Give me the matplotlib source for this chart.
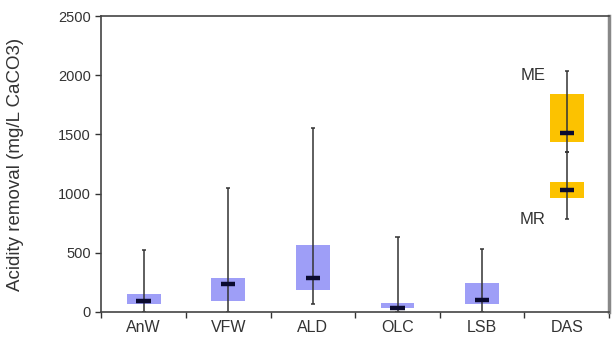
import matplotlib
matplotlib.use('Agg')
import matplotlib.pyplot as plt
import numpy as np

plt.rcParams['font.family'] = ['Liberation Sans', 'DejaVu Sans']

# data
categories = ['AnW', 'VFW', 'ALD', 'OLC', 'LSB', 'DAS']
box_low = [70, 90, 189, 37, 65]
box_high = [155, 287, 569, 76, 242]
medians = [90, 237, 287, 34, 101]
whisk_low = [0, 0, 70, 0, 0]
whisk_high = [527, 1051, 1556, 637, 535]

# DAS: ME and MR
das_labels = ['ME', 'MR']
das_box_low = [1437, 964]
das_box_high = [1840, 1099]
das_medians = [1516, 1029]
das_whisk_low = [1353, 783]
das_whisk_high = [2038, 1353]

blueColor = '#9e9ef7'
goldColor = '#fcc200'
lineColor = '#333333'
textColor = '#333333'

fig = plt.figure(figsize=(6.14, 3.42), dpi=100)
ax = fig.add_axes([0.165, 0.088, 0.827, 0.865])

w = 0.4
mw = 0.17

def draw_box(x, lo, hi, med, wlo, whi, color):
    ax.bar(x, hi - lo, bottom=lo, width=w, color=color, zorder=1)
    ax.vlines(x, wlo, whi, color=lineColor, lw=1.1, zorder=2)
    ax.hlines([wlo, whi], x - 0.025, x + 0.025, color=lineColor, lw=1.1, zorder=2)
    ax.hlines(med, x - mw / 2, x + mw / 2, color='#0a0a30', lw=3.2, zorder=3)

for i in range(len(box_low)):
    draw_box(i, box_low[i], box_high[i], medians[i], whisk_low[i], whisk_high[i], blueColor)

for j in range(len(das_labels)):
    draw_box(5, das_box_low[j], das_box_high[j], das_medians[j],
             das_whisk_low[j], das_whisk_high[j], goldColor)

ax.text(4.6, 2000, das_labels[0], fontsize=12, color=textColor, ha='center', va='center')
ax.text(4.6, 780, das_labels[1], fontsize=12, color=textColor, ha='center', va='center')

ax.set_xlim(-0.5, 5.5)
ax.set_ylim(0, 2500)
ax.set_yticks(np.arange(0, 2501, 500))
ax.set_xticks(range(len(categories)))
ax.set_xticklabels(categories)
ax.set_xticks(np.arange(-0.5, 5.6, 1), minor=True)
ax.tick_params(axis='x', which='major', length=0, pad=6, labelsize=11.5, labelcolor=textColor)
ax.tick_params(axis='x', which='minor', length=4, width=1, color=lineColor, direction='out')
ax.tick_params(axis='y', length=4, width=1, color=lineColor, labelsize=10.5, labelcolor=textColor)
ax.set_ylabel('Acidity removal (mg/L CaCO3)', fontsize=13.5, color=textColor)
ax.yaxis.set_label_coords(-0.153, 0.5)

for s in ['left', 'bottom', 'top']:
    ax.spines[s].set_color('#444444')
    ax.spines[s].set_linewidth(1.2)
ax.spines['right'].set_color('#888888')
ax.spines['right'].set_linewidth(2.5)

fig.savefig('out.png', dpi=100)
